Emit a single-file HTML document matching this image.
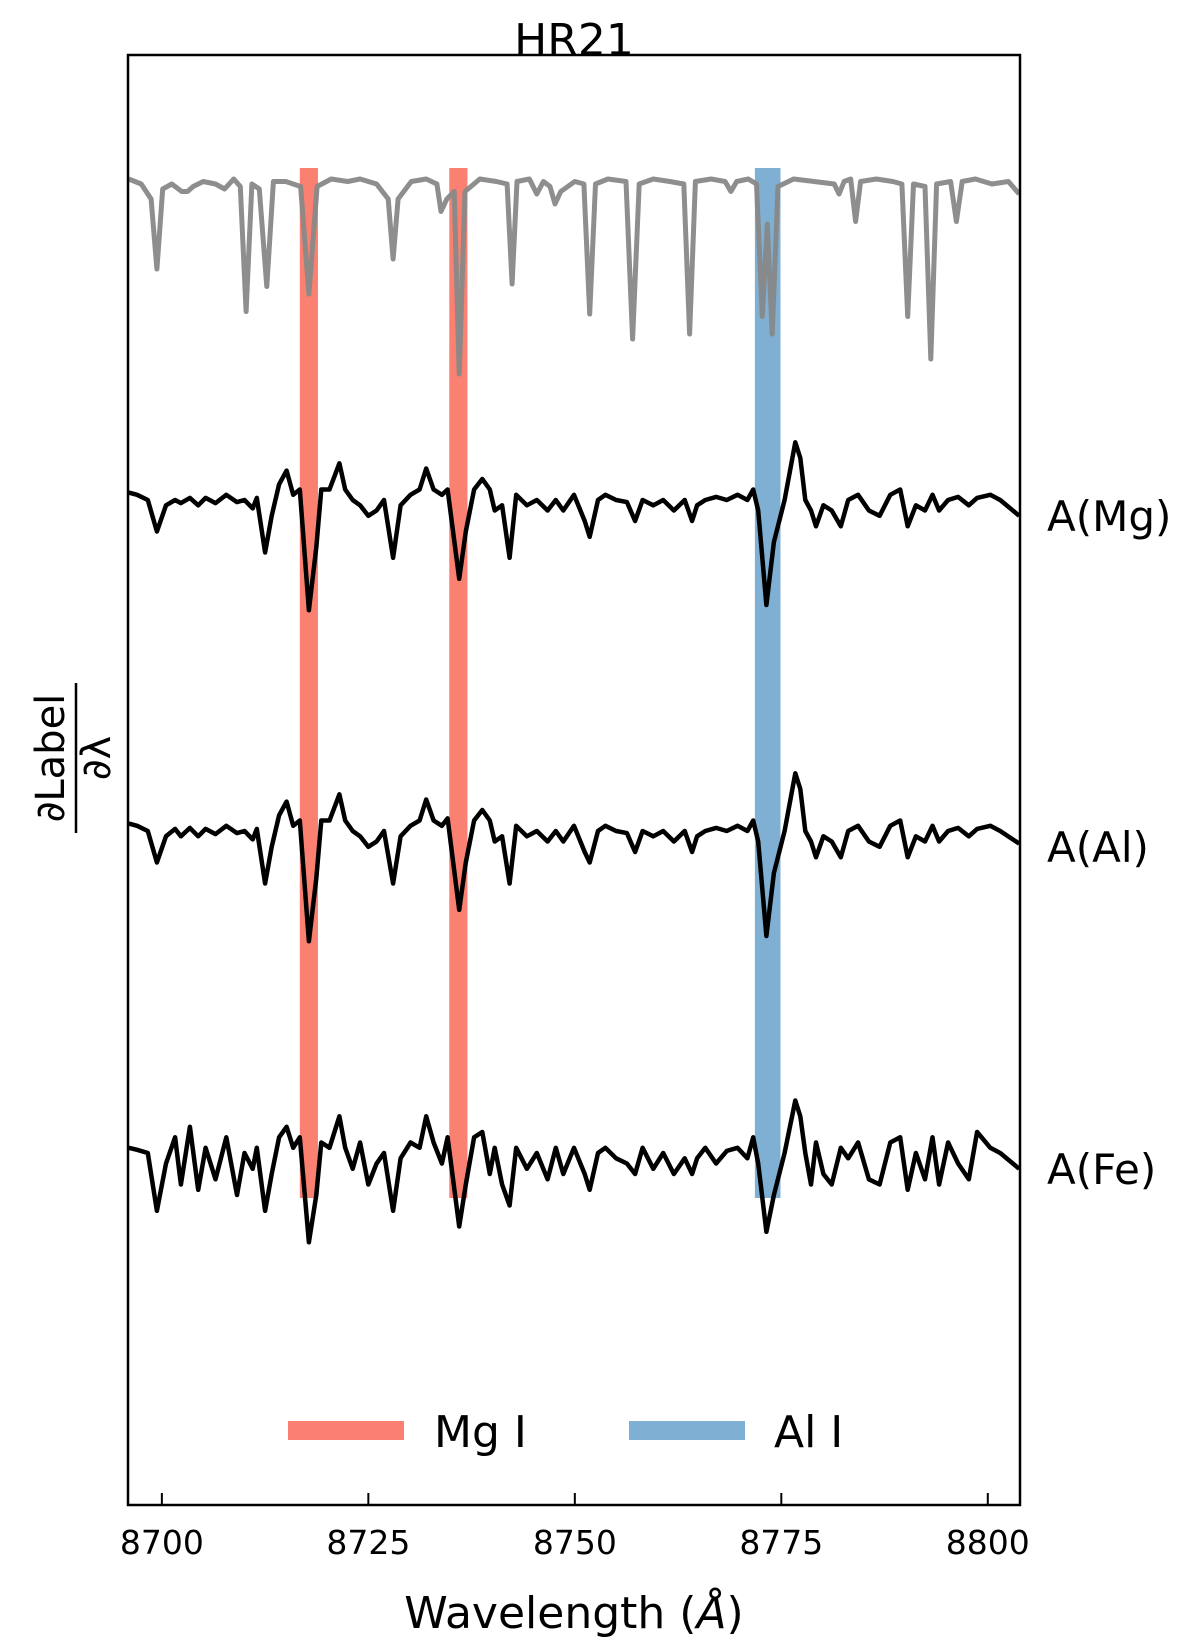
<!DOCTYPE html>
<html><head><meta charset="utf-8"><style>
html,body{margin:0;padding:0;background:#fff;}
svg{display:block;font-family:"DejaVu Sans","Liberation Sans",sans-serif;}
</style></head><body>
<svg id="chart" width="1200" height="1650" viewBox="0 0 1200 1650">
<text x="574" y="55" font-size="44" text-anchor="middle">HR21</text>
<g id="bands"></g>
<g id="series"></g>
<rect x="128" y="55" width="892" height="1450" fill="none" stroke="#000" stroke-width="2.5"/>
<g id="ticks"></g>
<text x="574" y="1628" font-size="44" text-anchor="middle">Wavelength (<tspan font-style="italic">Å</tspan>)</text>
<g transform="translate(72,758) rotate(-90)">
<text x="0" y="-8" font-size="40" text-anchor="middle">∂Label</text>
<line x1="-75" y1="4" x2="75" y2="4" stroke="#000" stroke-width="2.5"/>
<text x="0" y="38" font-size="40" text-anchor="middle">∂λ</text>
</g>
<g>
<rect x="288" y="1421" width="116" height="19" fill="#fa8072"/>
<text x="434" y="1447" font-size="44">Mg I</text>
<rect x="629" y="1421" width="116" height="19" fill="#7fb0d3"/>
<text x="774" y="1447" font-size="44">Al I</text>
</g>
</svg>
<script>
const xTicks=[8700,8725,8750,8775,8800];
const bandStarts=[8716.7,8734.8,8771.8];
const bandEnds=[8718.9,8737.0,8774.9];
const bandNames=['band-mg-1','band-mg-2','band-al-1'];
const bandColors=['#fa8072','#fa8072','#7fb0d3'];
const grayWave=[8696.0,8697.5,8698.7,8699.4,8700.1,8701.2,8702.4,8703.1,8703.8,8705.0,8706.5,8707.6,8708.7,8709.5,8710.2,8710.9,8711.8,8712.7,8713.5,8715.0,8716.8,8717.8,8718.8,8720.5,8722.5,8724.0,8726.0,8727.4,8728.0,8728.6,8730.2,8732.0,8733.3,8733.8,8734.5,8735.4,8736.0,8736.7,8738.5,8740.5,8741.8,8742.4,8743.0,8744.5,8745.4,8746.2,8747.0,8747.6,8748.3,8750.0,8751.1,8751.8,8752.5,8754.0,8756.2,8757.0,8757.8,8759.5,8761.5,8763.2,8763.9,8764.6,8766.5,8768.2,8768.9,8769.6,8771.0,8772.0,8772.7,8773.3,8773.9,8774.6,8776.5,8779.0,8781.4,8782.0,8782.6,8783.4,8784.0,8784.6,8786.5,8788.5,8789.6,8790.3,8791.0,8792.4,8793.1,8793.8,8795.5,8796.2,8796.9,8798.5,8800.5,8802.5,8803.8];
const grayFlux=[0.98,0.96,0.90,0.62,0.94,0.96,0.93,0.93,0.95,0.97,0.96,0.94,0.98,0.95,0.45,0.96,0.94,0.55,0.97,0.97,0.95,0.52,0.95,0.98,0.97,0.98,0.96,0.90,0.66,0.90,0.97,0.98,0.96,0.85,0.90,0.93,0.20,0.93,0.98,0.97,0.96,0.56,0.97,0.98,0.92,0.97,0.95,0.88,0.93,0.97,0.96,0.44,0.96,0.98,0.97,0.34,0.96,0.98,0.97,0.96,0.36,0.97,0.98,0.97,0.93,0.97,0.98,0.96,0.43,0.80,0.36,0.95,0.98,0.97,0.96,0.92,0.97,0.98,0.81,0.97,0.98,0.97,0.96,0.43,0.96,0.95,0.26,0.96,0.97,0.81,0.97,0.98,0.96,0.97,0.92];
const derivWave=[8696.0,8697.0,8698.3,8699.4,8700.5,8701.6,8702.3,8703.4,8704.4,8705.3,8706.5,8707.8,8709.1,8710.0,8711.0,8711.5,8712.5,8713.3,8714.2,8715.1,8715.9,8716.7,8717.8,8718.7,8719.3,8720.3,8721.5,8722.2,8723.1,8724.0,8725.0,8726.0,8726.9,8728.0,8728.9,8730.1,8731.2,8732.0,8732.9,8733.9,8734.6,8736.0,8736.8,8737.8,8738.8,8739.7,8740.3,8741.2,8742.1,8742.9,8744.2,8745.4,8746.7,8747.7,8748.6,8749.9,8751.2,8751.8,8752.8,8753.7,8755.0,8756.3,8757.3,8758.2,8759.5,8760.7,8762.0,8763.3,8764.2,8764.8,8765.8,8767.1,8768.4,8769.7,8770.9,8771.6,8772.2,8773.2,8774.1,8775.4,8776.7,8777.3,8777.9,8778.6,8779.2,8780.1,8781.1,8782.2,8783.1,8784.3,8785.6,8786.9,8788.2,8789.4,8790.3,8791.3,8792.4,8793.3,8794.1,8795.2,8796.4,8797.7,8798.7,8800.3,8801.5,8803.8];
const mgValues=[0.07,0.05,0.0,-0.30,-0.05,0.0,-0.03,0.02,-0.05,0.02,-0.03,0.05,-0.02,0.0,-0.08,0.02,-0.50,-0.15,0.15,0.28,0.05,0.10,-1.05,-0.45,0.10,0.10,0.35,0.10,0.0,-0.05,-0.15,-0.10,0.0,-0.55,-0.05,0.05,0.10,0.30,0.10,0.05,0.10,-0.75,-0.30,0.10,0.20,0.10,-0.10,-0.05,-0.55,0.05,-0.05,0.0,-0.10,0.0,-0.10,0.05,-0.20,-0.35,0.0,0.05,0.0,-0.02,-0.20,0.0,-0.05,0.0,-0.10,0.0,-0.20,-0.05,0.0,0.03,0.0,0.05,0.0,0.10,-0.10,-1.00,-0.40,0.0,0.55,0.40,0.0,-0.10,-0.25,-0.05,-0.10,-0.25,0.0,0.05,-0.10,-0.15,0.05,0.10,-0.25,-0.05,-0.10,0.05,-0.10,0.0,0.03,-0.05,0.02,0.05,0.0,-0.15];
const alValues=[0.07,0.05,0.0,-0.30,-0.05,0.02,-0.05,0.03,-0.05,0.02,-0.03,0.05,-0.02,0.0,-0.08,0.02,-0.50,-0.15,0.15,0.28,0.05,0.10,-1.05,-0.45,0.10,0.10,0.35,0.10,0.0,-0.05,-0.15,-0.10,0.0,-0.50,-0.05,0.05,0.10,0.30,0.10,0.05,0.12,-0.75,-0.30,0.10,0.20,0.10,-0.10,-0.05,-0.50,0.05,-0.05,0.0,-0.10,0.0,-0.10,0.05,-0.20,-0.30,0.0,0.05,0.0,-0.02,-0.20,0.0,-0.05,0.0,-0.10,0.0,-0.20,-0.05,0.0,0.03,0.0,0.05,0.0,0.10,-0.10,-1.00,-0.40,0.0,0.55,0.40,0.0,-0.10,-0.25,-0.05,-0.10,-0.25,0.0,0.05,-0.10,-0.15,0.05,0.10,-0.25,-0.05,-0.10,0.05,-0.10,0.0,0.03,-0.05,0.02,0.05,0.0,-0.12];
const feValues=[0.05,0.03,0.0,-0.55,-0.10,0.15,-0.30,0.25,-0.35,0.05,-0.25,0.15,-0.40,0.0,-0.15,0.05,-0.55,-0.20,0.15,0.25,0.05,0.15,-0.85,-0.40,0.10,0.05,0.35,0.05,-0.15,0.10,-0.30,-0.10,0.0,-0.55,-0.05,0.10,0.05,0.35,0.10,-0.10,0.15,-0.70,-0.30,0.15,0.20,-0.20,0.05,-0.30,-0.50,0.05,-0.15,0.0,-0.25,0.05,-0.20,0.05,-0.20,-0.35,0.0,0.05,-0.05,-0.10,-0.20,0.05,-0.15,0.0,-0.20,-0.05,-0.20,-0.05,0.05,-0.10,0.02,0.05,-0.05,0.15,-0.10,-0.75,-0.40,0.0,0.50,0.35,0.0,-0.30,0.10,-0.20,-0.30,0.05,-0.05,0.10,-0.25,-0.30,0.10,0.15,-0.35,0.0,-0.25,0.15,-0.30,0.10,-0.10,-0.25,0.20,0.05,0.0,-0.15];
const seriesNames=['A(Mg)','A(Al)','A(Fe)'];

const X0=8695.9,X1=8803.9,PL=128,PR=1020;
function xs(w){return PL+(w-X0)/(X1-X0)*(PR-PL);}
const grayBase=174,grayK=250;
function ysGray(f){return grayBase+(1-f)*grayK;}
const derivBases=[500,831,1153],derivK=105;
function ysDeriv(v,i){return derivBases[i]-v*derivK;}
const NS='http://www.w3.org/2000/svg';
function mk(tag,attrs,parent){const e=document.createElementNS(NS,tag);for(const k in attrs)e.setAttribute(k,attrs[k]);parent.appendChild(e);return e;}

const bands=document.getElementById('bands');
for(let i=0;i<bandStarts.length;i++){
  const r=mk('rect',{x:xs(bandStarts[i]),y:168,width:xs(bandEnds[i])-xs(bandStarts[i]),height:1030,fill:bandColors[i]},bands);
  
  
}
const sg=document.getElementById('series');
let pts=grayWave.map((w,i)=>xs(w).toFixed(1)+','+ysGray(grayFlux[i]).toFixed(1)).join(' ');
const gp=mk('polyline',{points:pts,fill:'none',stroke:'#888','stroke-width':5,'stroke-linejoin':'round','stroke-opacity':0.95},sg);


const allVals=[mgValues,alValues,feValues];
const lineNames=['mg-derivative-line','al-derivative-line','fe-derivative-line'];
const labelNames=['mg-series-label','al-series-label','fe-series-label'];
for(let s=0;s<3;s++){
  const p=derivWave.map((w,i)=>xs(w).toFixed(1)+','+ysDeriv(allVals[s][i],s).toFixed(1)).join(' ');
  const pl=mk('polyline',{points:p,fill:'none',stroke:'#000','stroke-width':4.5,'stroke-linejoin':'round'},sg);
  
  
  const t=mk('text',{x:1047,y:derivBases[s]+31,'font-size':42},sg);
  t.textContent=seriesNames[s];
  
  
}
const tg=document.getElementById('ticks');
xTicks.forEach(v=>{
  const l=mk('line',{x1:xs(v),x2:xs(v),y1:1505,y2:1493,stroke:'#000','stroke-width':2},tg);
  
  
  const t=mk('text',{x:xs(v),y:1554,'font-size':33,'text-anchor':'middle'},tg);
  t.textContent=v;
  
  
});
</script>
</body></html>
